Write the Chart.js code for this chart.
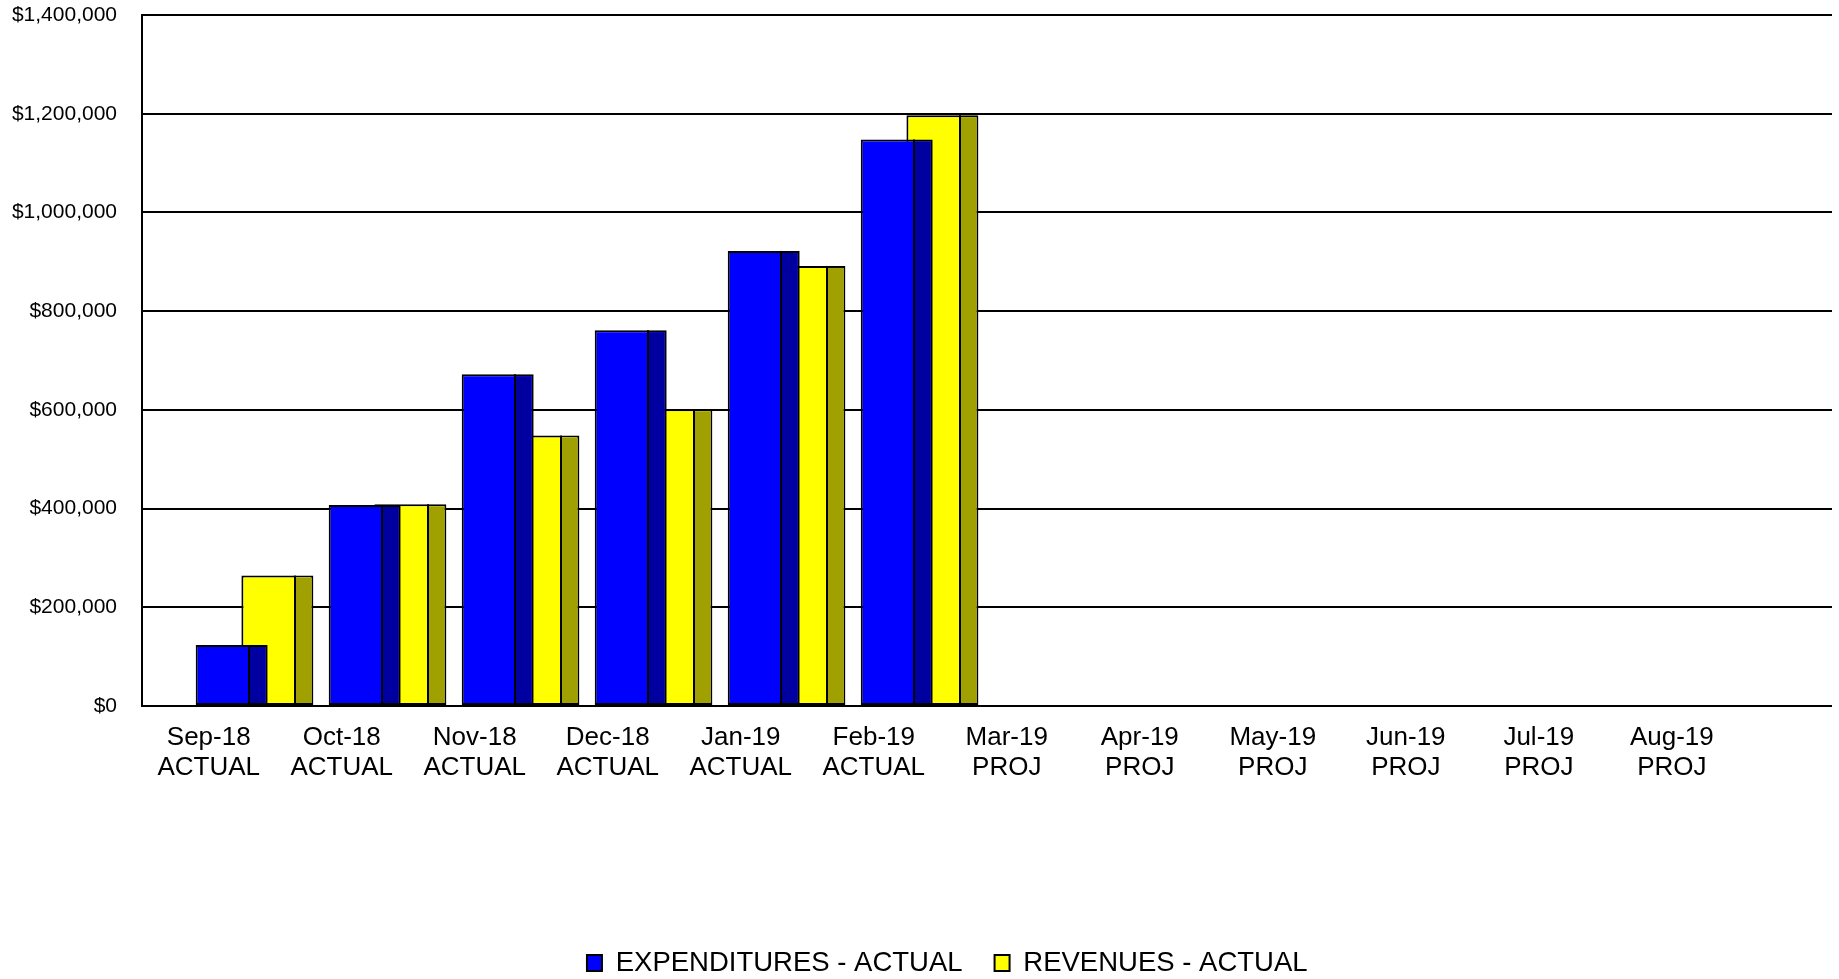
<!DOCTYPE html>
<html>
<head>
<meta charset="utf-8">
<title>Expenditures and Revenues</title>
<script src="https://cdn.jsdelivr.net/npm/chart.js@4/dist/chart.umd.min.js"></script>
<style>
  html, body { margin: 0; padding: 0; background: #ffffff; overflow: hidden; }
  #wrap { position: relative; width: 1839px; height: 979px; }
</style>
</head>
<body>
<div id="wrap"><canvas id="chart"></canvas></div>
<script>
// Months of the fiscal year and whether each one is actual or projected
const months = ['Sep-18', 'Oct-18', 'Nov-18', 'Dec-18', 'Jan-19', 'Feb-19',
                'Mar-19', 'Apr-19', 'May-19', 'Jun-19', 'Jul-19', 'Aug-19'];
const phases = ['ACTUAL', 'ACTUAL', 'ACTUAL', 'ACTUAL', 'ACTUAL', 'ACTUAL',
                'PROJ', 'PROJ', 'PROJ', 'PROJ', 'PROJ', 'PROJ'];

// Cumulative actuals (dollars) for the months reported so far
const expenditures = [123600, 407300, 672100, 761300, 922000, 1147800];
const revenues     = [264200, 408700, 547900, 601200, 891600, 1197000];

// Value axis ticks
const yTicks = [0, 200000, 400000, 600000, 800000, 1000000, 1200000, 1400000];

const toPoints = values => values.map((v, i) => ({ x: i, y: v }));

Chart.defaults.font.family = '"Liberation Sans", Arial, Helvetica, sans-serif';
Chart.defaults.color = '#000000';

// Paints the darker right-hand face of each bar so the columns read as blocks
const sideFaces = {
  id: 'sideFaces',
  afterDatasetDraw(chart, args, opts) {
    const ds = chart.data.datasets[args.index];
    const ctx = chart.ctx;
    const area = chart.chartArea;
    ctx.save();
    ctx.beginPath();
    ctx.rect(area.left, area.top, area.right - area.left, area.bottom - area.top);
    ctx.clip();
    args.meta.data.forEach(bar => {
      if (bar.skip) return;
      const { x, y, base, width } = bar.getProps(['x', 'y', 'base', 'width'], true);
      const right = x + width / 2;
      const top = Math.min(y, base);
      const bottom = Math.max(y, base);
      const bw = ds.borderWidth;
      const split = Math.round(right - width * opts.depth);
      ctx.fillStyle = ds.sideColor;
      ctx.fillRect(split, top + bw, right - bw - split, bottom - top - 2 * bw);
      ctx.fillStyle = ds.borderColor;
      ctx.fillRect(split - bw / 2, top, bw, bottom - top);
    });
    ctx.restore();
  }
};

// Sets the left edge of the legend row's box after layout
const legendInset = {
  id: 'legendInset',
  afterLayout(chart, args, opts) {
    if (chart.legend) chart.legend.left = opts.left;
  }
};

new Chart(document.getElementById('chart'), {
  type: 'bar',
  plugins: [sideFaces, legendInset],
  data: {
    datasets: [
      {
        label: 'EXPENDITURES - ACTUAL',
        data: toPoints(expenditures),
        backgroundColor: '#0000FF',
        sideColor: '#0000A0',
        borderColor: '#000000',
        borderWidth: 2,
        borderSkipped: false
      },
      {
        label: 'REVENUES - ACTUAL',
        data: toPoints(revenues),
        backgroundColor: '#FFFF00',
        sideColor: '#A0A000',
        borderColor: '#000000',
        borderWidth: 2,
        borderSkipped: false
      }
    ]
  },
  options: {
    responsive: true,
    maintainAspectRatio: false,
    devicePixelRatio: 1,
    animation: false,
    categoryPercentage: 0.687,
    barPercentage: 1.575,
    layout: { padding: { left: 0, right: 7, top: 15, bottom: -7.75 } },
    plugins: {
      sideFaces: { depth: 0.26 },
      legendInset: { left: 62.5 },
      tooltip: { enabled: false },
      legend: {
        position: 'bottom',
        labels: {
          boxWidth: 15,
          boxHeight: 16,
          padding: 32,
          color: '#000000',
          font: { size: 27.5 }
        }
      }
    },
    scales: {
      x: {
        type: 'linear',
        offset: false,
        bounds: 'data',
        min: -0.846,
        max: 11.86,
        grid: { display: false },
        border: { display: false },
        afterBuildTicks: scale => {
          scale.ticks = months.map((m, i) => ({ value: i }));
        },
        afterFit: scale => { scale.height = 211.25; },
        ticks: {
          autoSkip: false,
          maxRotation: 0,
          minRotation: 0,
          padding: 9,
          labelOffset: -45.8,
          color: '#000000',
          font: { size: 26, lineHeight: 1.14 },
          callback: value => [months[value], phases[value]]
        }
      },
      y: {
        min: 0,
        max: 1400000,
        afterBuildTicks: scale => {
          scale.ticks = yTicks.map(v => ({ value: v }));
        },
        afterFit: scale => { scale.width = 142; },
        grid: { color: '#000000', lineWidth: 2, drawTicks: true, tickLength: 25, tickColor: 'rgba(0,0,0,0)' },
        border: { display: true, color: '#000000', width: 2 },
        ticks: {
          padding: 0,
          color: '#000000',
          font: { size: 21 },
          callback: value => '$' + value.toLocaleString('en-US')
        }
      }
    }
  }
});
</script>
</body>
</html>
